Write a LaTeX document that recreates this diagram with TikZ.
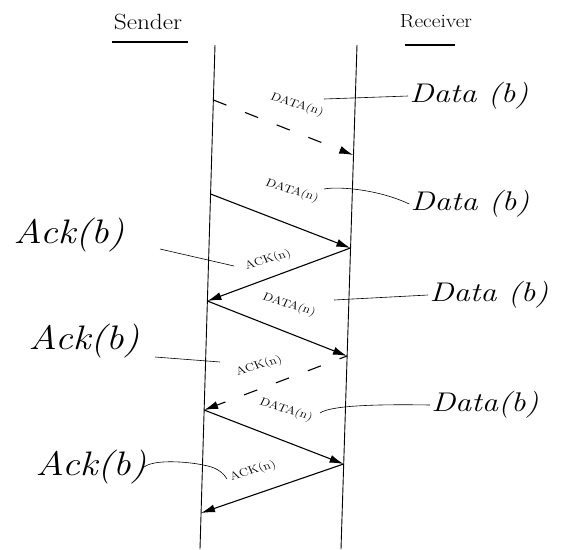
\documentclass[tikz,border=0pt]{standalone}
\usepackage{fontspec}
\usetikzlibrary{arrows.meta}
\begin{document}
\begin{tikzpicture}[x=1pt,y=-1pt,
  lifeline/.style={line width=0.9pt},
  msg/.style={line width=1.1pt,-{Latex[length=14pt,width=8pt]}},
  lostmsg/.style={msg,dash pattern=on 14pt off 20pt},
  tag/.style={font=\fontsize{11}{12}\selectfont,inner sep=1pt,xscale=1.25},
  note/.style={font=\fontsize{27}{29}\selectfont\itshape,inner sep=1pt,xscale=1.2},
  acknote/.style={font=\fontsize{34}{36}\selectfont\itshape,inner sep=1pt,xscale=1.15},
  lead/.style={line width=0.6pt},
  title/.style={font=\fontsize{22}{24}\selectfont,inner sep=0pt,xscale=1.15}]
\useasboundingbox (0,0) rectangle (565,549);

% column headings
\node[title] (sender) at (148,22) {Sender};
\node[title,font=\fontsize{19}{21}\selectfont,xscale=0.98] (receiver) at (436,21) {Receiver};
\draw[line width=1.2pt] (112,42) -- (188,42);
\draw[line width=1.2pt] (405,45) -- (455,45);

% lifelines
\coordinate (stop) at (215,45);
\coordinate (sbot) at (200,549);
\coordinate (rtop) at (357,45);
\coordinate (rbot) at (341,549);
\draw[lifeline] (stop) -- (sbot);
\draw[lifeline] (rtop) -- (rbot);

% message end points on the lifelines
\coordinate (sA) at (213.4,100);
\coordinate (sB) at (210.6,194);
\coordinate (sC) at (207.4,301);
\coordinate (sD) at (204.1,410);
\coordinate (sE) at (201,513);
\coordinate (rA) at (353.2,155);
\coordinate (rB) at (350.4,248);
\coordinate (rC) at (347,356);
\coordinate (rD) at (343.6,464);

% messages
\draw[lostmsg] (sA) -- (rA);
\draw[msg] (sB) -- (rB);
\draw[msg] (rB) -- (sC);
\draw[msg] (sC) -- (rC);
\draw[lostmsg,dash phase=6pt] (rC) -- (sD);
\draw[msg] (sD) -- (rD);
\draw[msg] (rD) -- (sE);

% message labels
\node[tag,rotate=-21] (t1) at (297,105) {DATA(n)};
\node[tag,rotate=-21] (t2) at (292,191) {DATA(n)};
\node[tag,rotate=20] (t3) at (268,260) {ACK(n)};
\node[tag,rotate=-21] (t4) at (289,305) {DATA(n)};
\node[tag,rotate=20] (t5) at (259,366) {ACK(n)};
\node[tag,rotate=-21] (t6) at (286,410) {DATA(n)};
\node[tag,rotate=20] (t7) at (253,471) {ACK(n)};

% hand-written notes
\node[note] (n1) at (469,96) {Data (b)};
\node[note] (n2) at (470,204) {Data (b)};
\node[note] (n3) at (489,295) {Data (b)};
\node[note] (n4) at (485,405) {Data(b)};
\node[acknote] (a1) at (69,235) {Ack(b)};
\node[acknote] (a2) at (84,341) {Ack(b)};
\node[acknote] (a3) at (91,467) {Ack(b)};

% leader lines from the notes to the labels
\coordinate (c1) at (324,99);
\coordinate (c2) at (324,189);
\coordinate (c3) at (234,266);
\coordinate (c4) at (334,300);
\coordinate (c5) at (220,362);
\coordinate (c6) at (320,413);
\coordinate (c7) at (227,479);
\coordinate (b1) at (160,249);
\coordinate (b2) at (155,357);
\coordinate (b3) at (142,469);
\draw[lead] (c1) -- (n1.west);
\draw[lead] (c2) .. controls (340,186) and (380,190) .. (n2.west);
\draw[lead] (b1) -- (c3);
\draw[lead] (c4) -- (n3.west);
\draw[lead] (b2) -- (c5);
\draw[lead] (c6) .. controls (330,406) and (370,404) .. (n4.west);
\draw[lead] (b3) .. controls (150,458) and (190,462) .. (203,465)
  .. controls (215,467) and (222,471) .. (c7);
\end{tikzpicture}
\end{document}
